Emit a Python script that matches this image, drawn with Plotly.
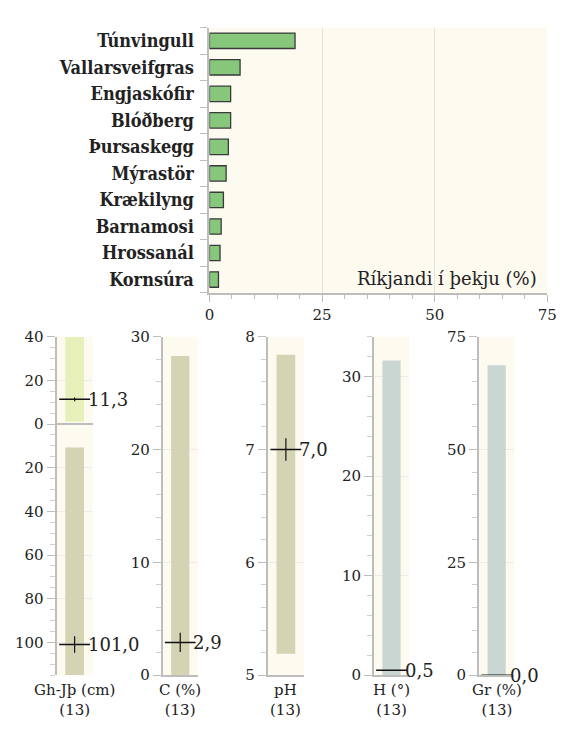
import plotly.graph_objects as go

# ---------------- data ----------------
species = ["Túnvingull", "Vallarsveifgras", "Engjaskófir", "Blóðberg", "Þursaskegg",
           "Mýrastör", "Krækilyng", "Barnamosi", "Hrossanál", "Kornsúra"]
cover = [19.0, 6.8, 4.7, 4.7, 4.2, 3.7, 3.1, 2.6, 2.35, 2.0]

panel_titles = ["Gh-Jþ (cm)", "C (%)", "pH", "H (°)", "Gr (%)"]
panel_n = [13, 13, 13, 13, 13]
# range bars (low, high) per panel
gh_upper_range = (1.0, 40.0)     # Gh (above 0, shown upward)
gh_lower_range = (10.7, 115.0)   # Jþ (below 0, shown downward)
c_range = (0.0, 28.3)
ph_range = (5.19, 7.84)
h_range = (0.0, 31.6)
gr_range = (0.0, 68.7)
# medians / points
gh_upper_val = 11.3
gh_lower_val = 101.0
c_val = 2.9
ph_val = 7.0
h_val = 0.5
gr_val = 0.0
# vertical spread of crosses
gh_upper_err = 0.9
gh_lower_err = 3.8
c_err = 0.86
ph_err = 0.1
h_err = 0.0
gr_err = 0.0

# axis setups
axis_ranges = [(115, -40), (0, 30), (5, 8), (0, 34), (0, 75)]
axis_dticks = [20, 10, 1, 10, 25]
axis_minor = [5, 2, 0.2, 2, 5]

# ---------------- style ----------------
W, H = 568, 729
FONT = "DejaVu Serif"
LABEL_FONT = "DejaVu Serif Condensed, DejaVu Serif"
CREAM = "#fdfaf0"
AXIS = "#bdbdbd"
TXT = "#222222"


def xd(a, b):
    return [a / W, b / W]


def yd(top, bottom):
    return [(H - bottom) / H, (H - top) / H]


fig = go.Figure()

# ---- top bar chart ----
fig.add_trace(go.Bar(
    x=cover, y=species, orientation="h",
    marker=dict(color="#86c77c", line=dict(color="#3a3a3a", width=1.3)),
    width=0.58, xaxis="x", yaxis="y", hoverinfo="skip", showlegend=False))

fig.update_layout(
    xaxis=dict(domain=xd(210, 557), anchor="y", range=[0, 75], tickvals=[0, 25, 50, 75],
               showgrid=True, gridcolor="#e2e2e2", gridwidth=1, zeroline=False,
               showline=True, linecolor=AXIS, linewidth=2,
               ticks="outside", ticklen=7, tickcolor=AXIS, tickwidth=1,
               minor=dict(dtick=5, ticks="outside", ticklen=4, tickcolor=AXIS, showgrid=False),
               tickfont=dict(family=FONT, size=15, color=TXT)),
    yaxis=dict(domain=yd(19, 291), anchor="x", categoryorder="array",
               categoryarray=species[::-1], tickson="boundaries",
               showline=True, linecolor=AXIS, linewidth=2,
               ticks="outside", ticklen=7, tickcolor=AXIS, tickwidth=1,
               ticklabelstandoff=10,
               showgrid=False, zeroline=False,
               tickfont=dict(family=LABEL_FONT, size=18, color=TXT, weight="bold")),
)

fig.add_shape(type="rect", xref="x domain", yref="y domain", x0=0, x1=1, y0=0, y1=1,
              fillcolor=CREAM, line=dict(width=0), layer="below")

fig.add_annotation(xref="x domain", yref="y domain", x=0.975, y=0.055, xanchor="right",
                   yanchor="middle", text="Ríkjandi í þekju (%)", showarrow=False,
                   font=dict(family=FONT, size=18, color=TXT))

# ---- bottom panels ----
panel_x = [(53, 90), (162, 198), (270, 307), (379, 415), (487, 523)]
bars = [
    [(-gh_upper_range[1], -gh_upper_range[0], "#e7efba"), (gh_lower_range[0], gh_lower_range[1], "#d4d4b4")],
    [(c_range[0], c_range[1], "#d4d4b4")],
    [(ph_range[0], ph_range[1], "#d4d4b4")],
    [(h_range[0], h_range[1], "#cad6d1")],
    [(gr_range[0], gr_range[1], "#cad6d1")],
]
points = [
    [(-gh_upper_val, gh_upper_val, gh_upper_err), (gh_lower_val, gh_lower_val, gh_lower_err)],
    [(c_val, c_val, c_err)],
    [(ph_val, ph_val, ph_err)],
    [(h_val, h_val, h_err)],
    [(gr_val, gr_val, gr_err)],
]

for i in range(5):
    k = i + 2
    xa, ya = f"x{k}", f"y{k}"
    for lo, hi, col in bars[i]:
        fig.add_trace(go.Bar(x=[0], y=[hi - lo], base=[lo], width=0.52,
                             marker=dict(color=col, line=dict(width=0)),
                             xaxis=xa, yaxis=ya, hoverinfo="skip", showlegend=False))
    ys = [p[0] for p in points[i]]
    errs = [p[2] for p in points[i]]
    fig.add_trace(go.Scatter(x=[0] * len(ys), y=ys, mode="markers",
                             marker=dict(symbol="line-ew", size=22,
                                         line=dict(color="#111111", width=1.5)),
                             error_y=dict(type="data", array=errs, symmetric=True,
                                          color="#111111", thickness=1.2, width=0),
                             xaxis=xa, yaxis=ya, hoverinfo="skip", showlegend=False))
    for ypos, val, _ in points[i]:
        fig.add_annotation(xref=xa, yref=ya, x=0, y=ypos, xanchor="left", yanchor="middle",
                           xshift=11, text=f"{val:.1f}".replace(".", ","), showarrow=False,
                           font=dict(family=FONT, size=18, color=TXT))

    lo_r, hi_r = axis_ranges[i]
    if i == 0:
        tickvals = list(range(-40, 101, 20))
        ticktext = [str(abs(v)) for v in tickvals]
    else:
        d = axis_dticks[i]
        a, b = min(lo_r, hi_r), max(lo_r, hi_r)
        n = int(round((b - a) / d))
        tickvals = [round(a + j * d, 6) for j in range(n + 1) if a + j * d <= b + 1e-9]
        ticktext = [f"{v:g}" for v in tickvals]

    fig.update_layout(**{
        f"xaxis{k}": dict(domain=xd(*panel_x[i]), anchor=ya, range=[-0.5, 0.5],
                          showticklabels=False, ticks="", showgrid=False, zeroline=False,
                          showline=(i != 0), linecolor=AXIS, linewidth=2, fixedrange=True),
        f"yaxis{k}": dict(domain=yd(336, 683), anchor=xa, range=[lo_r, hi_r],
                          tickvals=tickvals, ticktext=ticktext,
                          showline=True, linecolor=AXIS, linewidth=2,
                          ticks="outside", ticklen=8, tickcolor=AXIS, tickwidth=1,
                          minor=dict(dtick=axis_minor[i], ticks="outside", ticklen=5,
                                     tickcolor="#d0d0d0", showgrid=False, tick0=0),
                          showgrid=True, gridcolor="#ececec", gridwidth=1,
                          zeroline=(i == 0), zerolinecolor=AXIS, zerolinewidth=2,
                          tickfont=dict(family=FONT, size=15, color=TXT)),
    })
    fig.add_shape(type="rect", xref=f"{xa} domain", yref=f"{ya} domain", x0=0, x1=1, y0=0, y1=1,
                  fillcolor=CREAM, line=dict(width=0), layer="below")
    cx = (panel_x[i][0] + panel_x[i][1]) / 2 / W
    fig.add_annotation(xref="paper", yref="paper", x=cx, y=0, xanchor="center",
                       yanchor="bottom", showarrow=False, borderpad=0,
                       text=f"{panel_titles[i]}<br>({panel_n[i]})",
                       font=dict(family=FONT, size=15, color=TXT))

fig.update_layout(width=W, height=H, margin=dict(l=0, r=0, t=0, b=0),
                  paper_bgcolor="white", plot_bgcolor="rgba(0,0,0,0)",
                  barmode="overlay", bargap=0.42, showlegend=False)

fig.write_html("out.html", config={"displayModeBar": False},
               post_script="document.body.style.margin='0';document.body.style.overflow='hidden';")
